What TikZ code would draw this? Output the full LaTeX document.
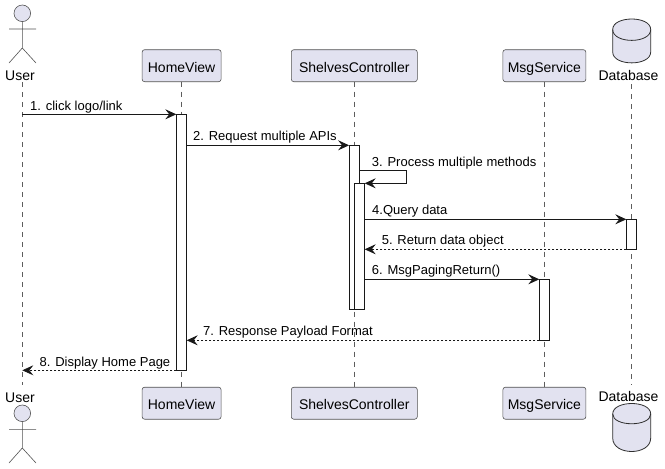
\documentclass[tikz,border=0pt]{standalone}
\usepackage{fontspec}
\setmainfont{Liberation Sans}
\usetikzlibrary{arrows.meta}
\definecolor{partfill}{HTML}{E2E2F0}
\definecolor{ink}{HTML}{181818}
\tikzset{
  x=1pt,y=-1pt,
  partbox/.style={draw=ink!75,fill=partfill,rounded corners=2.5pt,line width=.6pt,minimum height=32pt,inner sep=0pt,outer sep=0pt,text height=13pt,text depth=0pt,font=\fontsize{14}{16}\selectfont},
  actbar/.style={draw=ink,fill=white,line width=.8pt,minimum width=10.4pt,inner sep=0pt,outer sep=0pt},
  lifeline/.style={draw=ink!70,line width=.55pt,dash pattern=on 5pt off 5pt},
  msg/.style={draw=ink,line width=.8pt,-{Stealth[length=11pt,width=10pt,inset=4pt]}},
  ret/.style={msg,dash pattern=on 2pt off 2pt},
  msglabel/.style={anchor=base west,inner sep=0pt,font=\fontsize{13}{15}\selectfont},
  alabel/.style={anchor=base,inner sep=0pt,font=\fontsize{14}{16}\selectfont},
  figure/.style={draw=ink!75,line width=.6pt},
  figfill/.style={figure,fill=partfill},
}
\begin{document}
\begin{tikzpicture}
\useasboundingbox (0,0) rectangle (665,469);
% lifeline end points
\coordinate (uT) at (22.3,82);   \coordinate (uB) at (22.3,385);
\coordinate (dT) at (631.7,84);  \coordinate (dB) at (631.7,385);
% participants
\node[partbox,minimum width=79pt] (hvT) at (181.6,65.7) {HomeView};
\node[partbox,minimum width=79pt] (hvB) at (181.6,403.2) {HomeView};
\node[partbox,minimum width=126pt] (scT) at (354.3,65.7) {ShelvesController};
\node[partbox,minimum width=126pt] (scB) at (354.3,403.2) {ShelvesController};
\node[partbox,minimum width=83pt] (msT) at (544.4,65.7) {MsgService};
\node[partbox,minimum width=83pt] (msB) at (544.4,403.2) {MsgService};
% lifelines
\draw[lifeline] (uT) -- (uB);
\draw[lifeline] (hvT.south) -- (hvB.north);
\draw[lifeline] (scT.south) -- (scB.north);
\draw[lifeline] (msT.south) -- (msB.north);
\draw[lifeline] (dT) -- (dB);
% actors
\node[alabel] (uLT) at (20,80) {User};
\node[alabel] (uLB) at (20,402) {User};
\draw[figfill] (22.3,13.3) circle (8.3);
\draw[figure] (22.3,21.6) -- (22.3,48) (9,29) -- (36,29) (9,63) -- (22.3,48) -- (36,63);
\draw[figfill] (22.3,413.3) circle (8.3);
\draw[figure] (22.3,421.6) -- (22.3,448) (9,429.3) -- (36,429.3) (9,463) -- (22.3,448) -- (36,463);
% databases
\node[alabel] (dLT) at (628.5,80) {Database};
\node[alabel] (dLB) at (628.5,401) {Database};
\draw[ink!90,line width=.8pt,fill=partfill] (612.7,29.5) .. controls (612.7,15.5) and (650.7,15.5) .. (650.7,29.5)
  -- (650.7,52) .. controls (650.7,66.5) and (612.7,66.5) .. (612.7,52) -- cycle;
\draw[ink!90,line width=.8pt] (612.7,29.5) .. controls (612.7,44) and (650.7,44) .. (650.7,29.5);
\draw[ink!90,line width=.8pt,fill=partfill] (612.7,414) .. controls (612.7,400) and (650.7,400) .. (650.7,414)
  -- (650.7,438) .. controls (650.7,456) and (612.7,456) .. (612.7,438) -- cycle;
\draw[ink!90,line width=.8pt] (612.7,414) .. controls (612.7,427) and (650.7,427) .. (650.7,414);
% activation bars
\node[actbar,minimum height=256pt] (hvA) at (181.5,242.3) {};
\node[actbar,minimum height=164pt] (scA) at (354.3,227.3) {};
\node[actbar,minimum height=126pt] (scC) at (359.5,246.3) {};
\node[actbar,minimum height=30pt] (dbA) at (631.5,234.3) {};
\node[actbar,minimum height=61pt] (msA) at (544.5,309.8) {};
% messages
\draw[msg] (uT |- hvA.north) -- (hvA.north west);
\node[msglabel] (l1) at (30,110) {1. click logo/link};
\draw[msg] (hvA.north east |- scA.north) -- (scA.north west);
\node[msglabel] (l2) at (193,140) {2. Request multiple APIs};
\coordinate (selfA) at (406.7,170.6);
\coordinate (selfB) at (406.7,183.3);
\draw[msg] (scA.east |- selfA) -- (selfA) -- (selfB) -- (scC.north east);
\node[msglabel] (l3) at (371.7,166) {3. Process multiple methods};
\draw[msg] (scC.east |- dbA.north) -- (dbA.north west);
\node[msglabel] (l4) at (372,214) {4.Query data};
\draw[ret] (dbA.south west) -- (scC.east |- dbA.south);
\node[msglabel] (l5) at (381.6,244.5) {5. Return data object};
\draw[msg] (scC.east |- msA.north) -- (msA.north west);
\node[msglabel] (l6) at (371.7,274.5) {6. MsgPagingReturn()};
\draw[ret] (msA.south west) -- (hvA.east |- msA.south);
\node[msglabel] (l7) at (203,335) {7. Response Payload Format};
\draw[ret] (hvA.south west) -- (uT |- hvA.south);
\node[msglabel] (l8) at (39.5,366) {8. Display Home Page};
\end{tikzpicture}
\end{document}
